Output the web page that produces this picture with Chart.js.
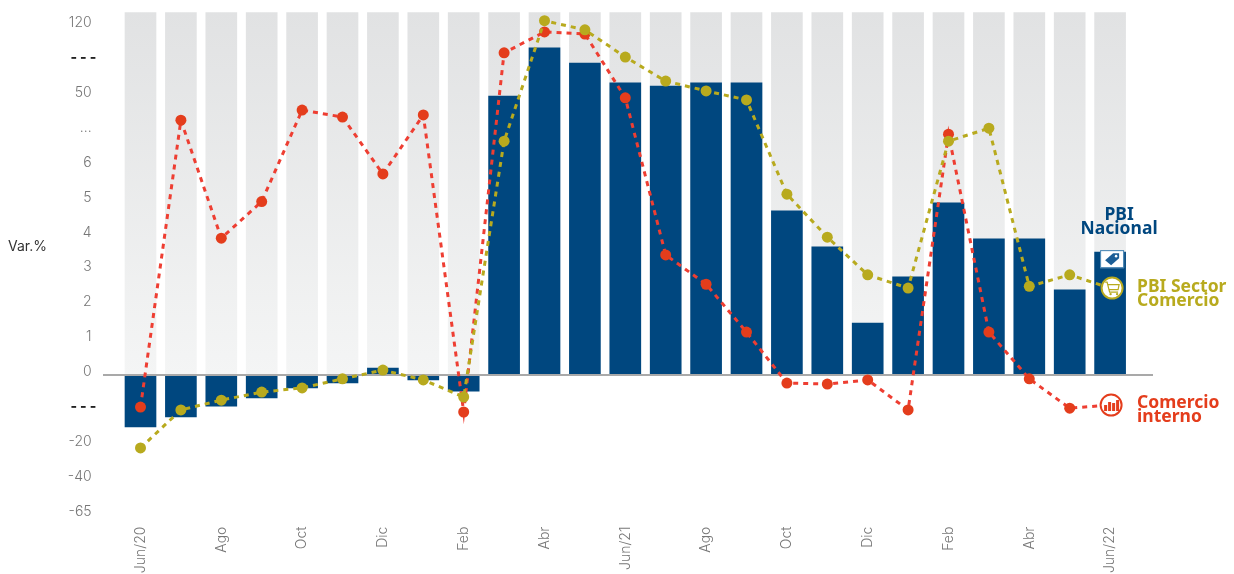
<!DOCTYPE html>
<html>
<head>
<meta charset="utf-8">
<title>PBI Comercio</title>
<script src="https://cdn.jsdelivr.net/npm/chart.js@4"></script>
<style>
    html, body { margin: 0; background: #fff; }
    canvas { display: block; }
</style>
</head>
<body>
<canvas id="pbiChart" width="1234" height="574"></canvas>
<script>
const MONTHS = ['Jun/20','','Ago','','Oct','','Dic','','Feb','','Abr','','Jun/21','','Ago','','Oct','','Dic','','Feb','','Abr','','Jun/22'];

// The axis in the picture is broken, so values are kept in axis steps (one step per printed label)
const TICK_STEPS = [-4,-3,-2,-1,0,1,2,3,4,5,6,7,8,9,10];
const TICK_LABELS = ['-65','-40','-20','- - -','0','1','2','3','4','5','6','...','50','- - -','120'];

const PBI_NACIONAL = [-1.49,-1.2,-0.89,-0.66,-0.37,-0.23,0.2,-0.14,-0.46,7.99,9.37,8.94,8.37,8.28,8.37,8.37,4.7,3.67,1.49,2.81,4.93,3.9,3.9,2.44,3.52];
const PBI_COMERCIO = [-2.09,-1.0,-0.72,-0.49,-0.37,-0.11,0.14,-0.14,-0.63,6.7,10.15,9.89,9.11,8.42,8.14,7.88,5.18,3.95,2.87,2.49,6.7,7.07,2.54,2.87,2.49];
const COMERCIO_INTERNO = [-0.92,7.3,3.92,4.97,7.59,7.39,5.76,7.45,-1.06,9.23,9.83,9.77,7.94,3.44,2.6,1.23,-0.23,-0.26,-0.14,-1.0,6.9,1.23,-0.11,-0.95,-0.86];
const BACKDROP = new Array(MONTHS.length).fill(10.38);

const BLUE = '#00477f';
const OLIVE = '#b8aa1e';
const RED = '#e43d1c';
const DASHES = '- - -';

const NACIONAL_LABEL = ['PBI', 'Nacional'];
const COMERCIO_LABEL = ['PBI Sector', 'Comercio'];
const INTERNO_LABEL = ['Comercio', 'interno'];

function backdropGradient(context) {
    const chart = context.chart;
    if (!chart.chartArea) return '#ebecec';
    const g = chart.ctx.createLinearGradient(0, chart.chartArea.top, 0, chart.scales.y.getPixelForValue(0));
    g.addColorStop(0, '#e1e2e3');
    g.addColorStop(1, '#f4f5f5');
    return g;
}

function drawLines(ctx, lines, x, y, color, align) {
    ctx.save();
    ctx.font = 'bold 17.5px "Noto Sans"';
    ctx.fillStyle = color;
    ctx.textAlign = align;
    ctx.textBaseline = 'middle';
    lines.forEach((line, i) => ctx.fillText(line, x, y + i * 14));
    ctx.restore();
}

function drawTag(ctx, x, y) {
    ctx.save();
    ctx.fillStyle = '#fff';
    ctx.strokeStyle = '#3f7fb0';
    ctx.lineWidth = 1;
    ctx.fillRect(x - 12, y - 9, 24, 18);
    ctx.strokeRect(x - 11.5, y - 8.5, 23, 17);
    ctx.fillStyle = '#1c5e96';
    ctx.beginPath();
    ctx.moveTo(x - 7, y + 1);
    ctx.lineTo(x + 1, y - 6);
    ctx.lineTo(x + 7, y - 6);
    ctx.lineTo(x + 7, y - 1);
    ctx.lineTo(x - 1, y + 6);
    ctx.closePath();
    ctx.fill();
    ctx.fillStyle = '#fff';
    ctx.beginPath();
    ctx.arc(x + 4, y - 3, 1.3, 0, Math.PI * 2);
    ctx.fill();
    ctx.restore();
}

function drawBadge(ctx, x, y, color) {
    ctx.beginPath();
    ctx.arc(x, y, 10.5, 0, Math.PI * 2);
    ctx.fillStyle = '#fff';
    ctx.fill();
    ctx.strokeStyle = color;
    ctx.lineWidth = 2;
    ctx.stroke();
}

function drawCart(ctx, x, y) {
    ctx.save();
    drawBadge(ctx, x, y, OLIVE);
    ctx.strokeStyle = OLIVE;
    ctx.fillStyle = OLIVE;
    ctx.lineWidth = 1.2;
    ctx.beginPath();
    ctx.moveTo(x - 7, y - 6);
    ctx.lineTo(x - 5, y - 6);
    ctx.lineTo(x - 2.5, y + 4);
    ctx.lineTo(x + 6, y + 4);
    ctx.moveTo(x - 4.5, y - 3.5);
    ctx.lineTo(x + 7, y - 3.5);
    ctx.lineTo(x + 6, y + 1.5);
    ctx.lineTo(x - 3, y + 1.5);
    ctx.stroke();
    ctx.beginPath();
    ctx.arc(x - 1.5, y + 6, 1.2, 0, Math.PI * 2);
    ctx.arc(x + 5, y + 6, 1.2, 0, Math.PI * 2);
    ctx.fill();
    ctx.restore();
}

function drawBarsIcon(ctx, x, y) {
    ctx.save();
    drawBadge(ctx, x, y, RED);
    ctx.fillStyle = RED;
    [[-7, 6], [-3, 9], [1, 8], [5, 11]].forEach(([dx, h]) => ctx.fillRect(x + dx, y + 6 - h, 3, h));
    ctx.restore();
}

const decorations = {
    id: 'decorations',
    beforeDatasetDraw(chart, args) {
        // zero line sits over the bars but under the dashed lines
        if (args.index !== 2) return;
        const ctx = chart.ctx;
        const y0 = Math.round(chart.scales.y.getPixelForValue(0));
        ctx.save();
        ctx.strokeStyle = '#a9a9a9';
        ctx.lineWidth = 2;
        ctx.beginPath();
        ctx.moveTo(103, y0);
        ctx.lineTo(1153, y0);
        ctx.stroke();
        ctx.restore();
    },
    afterDraw(chart) {
        const ctx = chart.ctx;
        const last = MONTHS.length - 1;
        const x = chart.scales.x.getPixelForValue(last);
        const y = chart.scales.y;

        drawTag(ctx, x + 2, y.getPixelForValue(PBI_NACIONAL[last]) + 7);
        drawCart(ctx, x + 2, y.getPixelForValue(PBI_COMERCIO[last]));
        drawBarsIcon(ctx, x + 1, y.getPixelForValue(COMERCIO_INTERNO[last]));

        drawLines(ctx, NACIONAL_LABEL, x + 9, 215, BLUE, 'center');
        drawLines(ctx, COMERCIO_LABEL, x + 27, y.getPixelForValue(PBI_COMERCIO[last]) - 1, OLIVE, 'left');
        drawLines(ctx, INTERNO_LABEL, x + 27, y.getPixelForValue(COMERCIO_INTERNO[last]) - 2, RED, 'left');

        ctx.save();
        ctx.font = '14px Inter';
        ctx.fillStyle = '#333';
        ctx.textBaseline = 'middle';
        ctx.fillText('Var.%', 8, 247);
        ctx.restore();
    }
};

function linePoints(color) {
    return {
        borderColor: color,
        backgroundColor: color,
        borderWidth: 3,
        borderDash: [5, 5],
        tension: 0,
        pointBorderWidth: 0,
        pointRadius: ctx => ctx.dataIndex === MONTHS.length - 1 ? 0 : 5.5
    };
}

function resetScalePadding(s) {
    s.paddingTop = 0;
    s.paddingBottom = 0;
}

new Chart(document.getElementById('pbiChart'), {
    type: 'bar',
    data: {
        labels: MONTHS,
        datasets: [
            { label: 'Fondo', data: BACKDROP, backgroundColor: backdropGradient, order: 5 },
            { label: 'PBI Nacional', data: PBI_NACIONAL, backgroundColor: BLUE, order: 4 },
            { type: 'line', label: 'Comercio interno', data: COMERCIO_INTERNO, ...linePoints(RED), borderColor: '#ee3e32', order: 3 },
            { type: 'line', label: 'PBI Sector Comercio', data: PBI_COMERCIO, ...linePoints(OLIVE), order: 2 }
        ]
    },
    plugins: [decorations],
    options: {
        responsive: false,
        animation: false,
        layout: { autoPadding: false, padding: { top: 12, right: 103.7, left: 0, bottom: 0 } },
        datasets: { bar: { grouped: false, barThickness: 31 } },
        plugins: { legend: { display: false }, tooltip: { enabled: false } },
        scales: {
            x: {
                offset: true,
                grid: { display: false, drawTicks: false },
                border: { display: false },
                afterFit: s => { s.height = 52.4; resetScalePadding(s); },
                ticks: {
                    autoSkip: false,
                    maxRotation: 90,
                    minRotation: 90,
                    padding: 5,
                    color: '#777',
                    font: { family: 'Inter', size: 14, weight: 300 },
                    callback: (v, i) => MONTHS[i]
                }
            },
            y: {
                min: -4.2,
                max: 10.4,
                grid: { display: false, drawTicks: false },
                border: { display: false },
                afterFit: s => { s.width = 120.3; resetScalePadding(s); },
                afterBuildTicks: s => { s.ticks = TICK_STEPS.map(value => ({ value })); },
                ticks: {
                    padding: 24,
                    labelOffset: -3,
                    color: ctx => ctx.index === 3 || ctx.index === 13 ? '#222' : '#777',
                    font: ctx => ctx.index === 3 || ctx.index === 13
                        ? { family: 'Inter', size: 14, weight: 800 }
                        : { family: 'Inter', size: 14, weight: 300 },
                    callback: (v, i) => TICK_LABELS[i] === DASHES ? DASHES : TICK_LABELS[i] + '\u2004'
                }
            }
        }
    }
});
</script>
</body>
</html>
